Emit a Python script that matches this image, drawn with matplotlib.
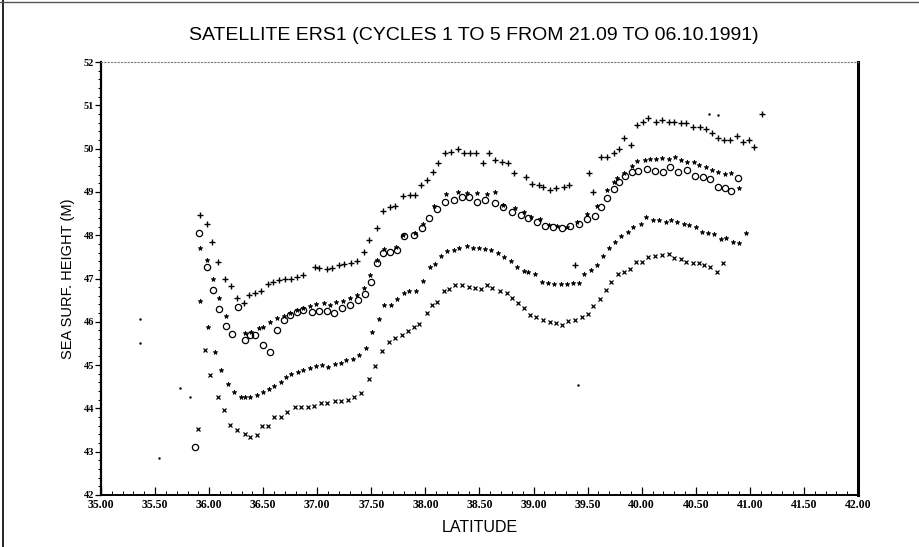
import numpy as np
import matplotlib
matplotlib.use('Agg')
import matplotlib.pyplot as plt
from matplotlib.lines import Line2D
from matplotlib.ticker import MultipleLocator, FormatStrFormatter

plt.rcParams['font.family'] = ['Liberation Sans', 'DejaVu Sans']

# cycle 1 ('+'), top band
plus_lat = [35.92, 35.98, 36.03, 36.085, 36.15, 36.20, 36.26, 36.32, 36.37, 36.42, 36.48, 36.54, 36.59,
            36.65, 36.70, 36.76, 36.81, 36.87, 36.98, 37.02, 37.09, 37.14, 37.20, 37.25, 37.31, 37.37,
            37.43, 37.48, 37.55, 37.61, 37.67, 37.72, 37.79, 37.86, 37.90, 37.96, 38.01, 38.07, 38.12,
            38.18, 38.24, 38.30, 38.36, 38.41, 38.47, 38.53, 38.59, 38.64, 38.71, 38.76, 38.82, 38.93,
            38.99, 39.05, 39.09, 39.15, 39.21, 39.28, 39.33, 39.51, 39.55, 39.62, 39.68, 39.74, 39.79,
            39.84, 39.90, 39.96, 40.01, 40.06, 40.13, 40.19, 40.25, 40.30, 40.36, 40.41, 40.47, 40.54,
            40.59, 40.65, 40.71, 40.76, 40.82, 40.88, 40.94, 40.99, 41.04, 41.11, 39.38]
plus_val = [48.47, 48.25, 47.85, 47.39, 46.98, 46.83, 46.54, 46.44, 46.62, 46.66, 46.72, 46.87, 46.93,
            46.97, 46.98, 47.00, 47.04, 47.08, 47.26, 47.24, 47.21, 47.25, 47.31, 47.33, 47.36, 47.41,
            47.62, 47.89, 48.16, 48.57, 48.64, 48.67, 48.91, 48.93, 48.93, 49.16, 49.27, 49.47, 49.67,
            49.89, 49.93, 49.98, 49.90, 49.90, 49.89, 49.67, 49.89, 49.74, 49.70, 49.66, 49.44, 49.34,
            49.18, 49.16, 49.12, 49.04, 49.08, 49.12, 49.16, 49.43, 48.99, 49.80, 49.81, 49.89, 49.98,
            50.24, 50.08, 50.55, 50.62, 50.70, 50.62, 50.66, 50.62, 50.61, 50.58, 50.58, 50.51, 50.49,
            50.45, 50.37, 50.24, 50.20, 50.20, 50.28, 50.16, 50.21, 50.03, 50.80, 47.31]

# cycle 2 ('*'), just above the circles
star_lat = [35.92, 35.98, 36.04, 36.09, 36.16, 36.33, 36.39, 36.46, 36.50, 36.56, 36.63, 36.69, 36.75,
            36.81, 36.87, 36.93, 36.99, 37.06, 37.12, 37.17, 37.24, 37.30, 37.37, 37.43, 37.49, 37.55,
            37.62, 37.73, 37.79, 37.90, 37.98, 38.08, 38.19, 38.30, 38.38, 38.48, 38.57, 38.64, 38.72,
            38.83, 38.91, 38.98, 39.06, 39.14, 39.22, 39.31, 39.40, 39.49, 39.59, 39.68, 39.74, 39.77,
            39.84, 39.91, 39.96, 40.03, 40.08, 40.13, 40.19, 40.25, 40.31, 40.36, 40.42, 40.48, 40.53,
            40.59, 40.65, 40.71, 40.77, 40.83, 40.90]
star_val = [47.70, 47.43, 46.98, 46.54, 46.13, 45.73, 45.77, 45.85, 45.89, 46.00, 46.08, 46.13, 46.20,
            46.27, 46.33, 46.36, 46.41, 46.43, 46.39, 46.46, 46.49, 46.54, 46.62, 46.77, 47.08, 47.43,
            47.67, 47.72, 48.00, 48.06, 48.26, 48.67, 48.95, 49.00, 48.98, 48.97, 48.95, 49.00, 48.70,
            48.62, 48.54, 48.43, 48.37, 48.24, 48.21, 48.20, 48.31, 48.49, 48.67, 49.04, 49.24, 49.31,
            49.44, 49.60, 49.72, 49.74, 49.75, 49.75, 49.78, 49.75, 49.80, 49.74, 49.70, 49.68, 49.62,
            49.57, 49.51, 49.47, 49.41, 49.43, 49.08]

# cycle 3 ('o')
circ_lat = [35.87, 35.91, 35.98, 36.04, 36.09, 36.16, 36.21, 36.27, 36.33, 36.38, 36.42, 36.50, 36.56,
            36.63, 36.69, 36.75, 36.81, 36.87, 36.95, 37.02, 37.09, 37.15, 37.23, 37.30, 37.38, 37.44,
            37.50, 37.55, 37.61, 37.67, 37.74, 37.80, 37.89, 37.97, 38.03, 38.11, 38.18, 38.26, 38.34,
            38.40, 38.48, 38.55, 38.64, 38.72, 38.80, 38.88, 38.95, 39.03, 39.11, 39.18, 39.26, 39.34,
            39.42, 39.49, 39.57, 39.62, 39.68, 39.74, 39.79, 39.85, 39.91, 39.97, 40.05, 40.12, 40.20,
            40.26, 40.34, 40.42, 40.49, 40.57, 40.63, 40.71, 40.77, 40.83, 40.89]
circ_val = [43.12, 48.04, 47.26, 46.73, 46.29, 45.90, 45.72, 46.35, 45.58, 45.69, 45.69, 45.46, 45.31,
            45.80, 46.04, 46.16, 46.23, 46.27, 46.23, 46.26, 46.26, 46.21, 46.31, 46.39, 46.50, 46.64,
            46.93, 47.35, 47.58, 47.62, 47.66, 47.97, 48.00, 48.16, 48.39, 48.60, 48.77, 48.81, 48.89,
            48.88, 48.77, 48.81, 48.74, 48.64, 48.54, 48.47, 48.39, 48.31, 48.21, 48.18, 48.16, 48.21,
            48.27, 48.37, 48.44, 48.66, 48.85, 49.06, 49.24, 49.37, 49.47, 49.49, 49.52, 49.49, 49.47,
            49.57, 49.47, 49.51, 49.37, 49.34, 49.29, 49.12, 49.08, 49.03, 49.31]

# cycle 4 (small stars), third band
dot_lat = [35.92, 35.99, 36.05, 36.11, 36.17, 36.23, 36.29, 36.33, 36.38, 36.44, 36.50, 36.55, 36.60,
           36.66, 36.71, 36.76, 36.82, 36.87, 36.93, 36.99, 37.04, 37.10, 37.16, 37.22, 37.27, 37.33,
           37.39, 37.45, 37.51, 37.57, 37.62, 37.68, 37.74, 37.80, 37.85, 37.91, 37.98, 38.04, 38.09,
           38.14, 38.20, 38.26, 38.31, 38.38, 38.44, 38.50, 38.55, 38.61, 38.67, 38.73, 38.79, 38.85,
           38.91, 38.95, 39.01, 39.08, 39.13, 39.19, 39.25, 39.31, 39.36, 39.42, 39.47, 39.53, 39.59,
           39.64, 39.70, 39.75, 39.81, 39.87, 39.92, 39.99, 40.04, 40.10, 40.16, 40.22, 40.27, 40.33,
           40.39, 40.44, 40.50, 40.56, 40.61, 40.67, 40.73, 40.78, 40.84, 40.90, 40.96]
dot_val = [46.49, 45.89, 45.31, 44.89, 44.56, 44.39, 44.27, 44.27, 44.27, 44.31, 44.39, 44.44, 44.52,
           44.62, 44.72, 44.79, 44.85, 44.89, 44.93, 44.98, 45.00, 44.95, 45.03, 45.06, 45.12, 45.13,
           45.23, 45.39, 45.77, 46.06, 46.39, 46.39, 46.52, 46.67, 46.70, 46.72, 46.95, 47.27, 47.33,
           47.52, 47.64, 47.66, 47.70, 47.75, 47.70, 47.70, 47.67, 47.66, 47.58, 47.50, 47.41, 47.27,
           47.18, 47.16, 47.10, 46.93, 46.89, 46.87, 46.87, 46.87, 46.89, 46.89, 47.10, 47.20, 47.31,
           47.52, 47.70, 47.85, 47.97, 48.08, 48.20, 48.27, 48.41, 48.35, 48.34, 48.31, 48.35, 48.31,
           48.26, 48.24, 48.20, 48.08, 48.06, 48.03, 47.91, 47.93, 47.85, 47.81, 48.06]

# cycle 5 ('x'), bottom band
x_lat = [35.90, 35.96, 36.01, 36.08, 36.14, 36.19, 36.26, 36.33, 36.38, 36.44, 36.49, 36.54, 36.60,
         36.66, 36.72, 36.79, 36.85, 36.91, 36.97, 37.03, 37.09, 37.16, 37.22, 37.28, 37.34, 37.40,
         37.48, 37.53, 37.60, 37.66, 37.72, 37.78, 37.84, 37.89, 37.94, 38.01, 38.06, 38.11, 38.17,
         38.22, 38.27, 38.34, 38.40, 38.46, 38.51, 38.57, 38.62, 38.69, 38.75, 38.80, 38.86, 38.91,
         38.97, 39.02, 39.09, 39.15, 39.21, 39.26, 39.32, 39.38, 39.45, 39.50, 39.55, 39.61, 39.67,
         39.72, 39.78, 39.84, 39.89, 39.95, 40.00, 40.06, 40.12, 40.19, 40.25, 40.30, 40.36, 40.41,
         40.47, 40.53, 40.58, 40.63, 40.70, 40.75]
x_val = [43.52, 45.35, 44.77, 44.27, 43.96, 43.62, 43.49, 43.41, 43.35, 43.39, 43.59, 43.59, 43.79,
         43.79, 43.92, 44.03, 44.03, 44.04, 44.06, 44.12, 44.13, 44.16, 44.16, 44.19, 44.27, 44.35,
         44.67, 44.98, 45.33, 45.54, 45.62, 45.70, 45.79, 45.89, 45.95, 46.21, 46.39, 46.46, 46.72,
         46.75, 46.85, 46.85, 46.81, 46.77, 46.75, 46.85, 46.77, 46.72, 46.66, 46.54, 46.43, 46.31,
         46.16, 46.10, 46.04, 46.00, 45.98, 45.93, 46.03, 46.04, 46.10, 46.18, 46.36, 46.52, 46.73,
         46.93, 47.10, 47.16, 47.23, 47.37, 47.39, 47.50, 47.52, 47.54, 47.57, 47.47, 47.44, 47.39,
         47.35, 47.36, 47.31, 47.27, 47.16, 47.35]

# loose specks
speck_lat = [35.36, 35.36, 35.73, 35.82, 35.54, 39.41, 40.62, 40.71]
speck_val = [46.06, 45.51, 44.47, 44.26, 42.85, 44.54, 50.80, 50.78]

fig = plt.figure(figsize=(9.2, 5.47), dpi=100)
ax = fig.add_axes([101 / 920, 1 - 495 / 547, (858 - 101) / 920, (495 - 62) / 547])

ax.plot(plus_lat, plus_val, ls='none', marker='+', ms=4.5, mew=1.0, color='black')
ax.plot(star_lat, star_val, ls='none', marker='*', ms=3.5, mew=0.5, color='black')
ax.plot(circ_lat, circ_val, ls='none', marker='o', ms=4.5, mew=0.9, mfc='none', color='black')
ax.plot(dot_lat, dot_val, ls='none', marker='*', ms=3.5, mew=0.5, color='black')
ax.plot(x_lat, x_val, ls='none', marker='x', ms=3.0, mew=0.9, color='black')
ax.plot(speck_lat, speck_val, ls='none', marker='.', ms=1.5, color='black')

ax.set_xlim(35, 42)
ax.set_ylim(42, 52)
ax.xaxis.set_major_locator(MultipleLocator(0.5))
ax.xaxis.set_minor_locator(MultipleLocator(0.1))
ax.xaxis.set_major_formatter(FormatStrFormatter('%.2f'))
ax.yaxis.set_major_locator(MultipleLocator(1))
ax.yaxis.set_minor_locator(MultipleLocator(0.2))

ax.tick_params(axis='x', which='major', direction='in', length=6, width=0.9, labelsize=8.5, pad=3)
ax.tick_params(axis='x', which='minor', direction='in', length=3, width=0.7)
ax.tick_params(axis='y', which='major', direction='out', length=4, width=0.9, labelsize=7.5, pad=1)
ax.tick_params(axis='y', which='minor', direction='out', length=2, width=0.7)
for lab in ax.get_xticklabels() + ax.get_yticklabels():
    lab.set_fontfamily(['Liberation Serif', 'DejaVu Serif'])
    lab.set_fontweight('bold')

ax.spines['left'].set_linewidth(1.6)
ax.spines['bottom'].set_linewidth(1.4)
ax.spines['right'].set_linewidth(2.2)
ax.spines['top'].set_linestyle((0, (1, 2)))
ax.spines['top'].set_color('#777777')
ax.spines['top'].set_linewidth(0.8)

fig.text(0.515, 0.935, 'SATELLITE ERS1 (CYCLES 1 TO 5 FROM 21.09 TO 06.10.1991)',
         ha='center', va='center', fontsize=14)
ax.set_xlabel('LATITUDE', fontsize=11.5, labelpad=6)
ax.set_ylabel('SEA SURF. HEIGHT (M)', fontsize=10.5, labelpad=6)

# page border
fig.add_artist(Line2D([0.003, 0.003], [0, 1], color='black', lw=1.2))
fig.add_artist(Line2D([0, 1], [0.997, 0.997], color='#555555', lw=1.0))

fig.savefig('out.png', dpi=100)
